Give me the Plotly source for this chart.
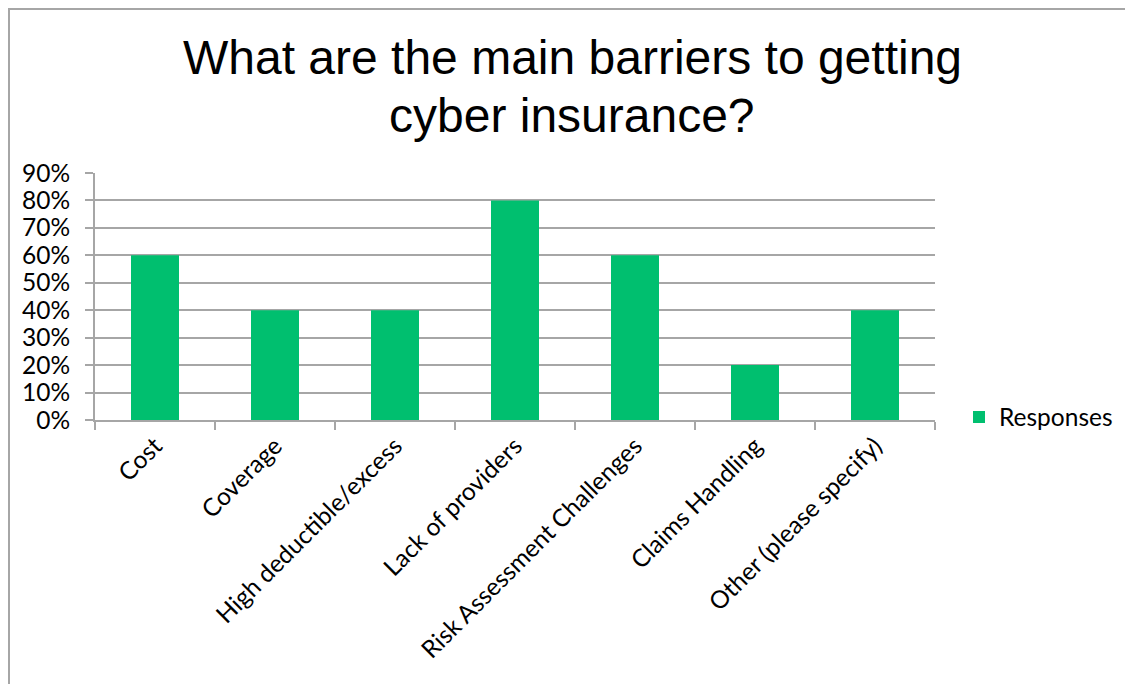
import plotly.graph_objects as go

categories = ["Cost", "Coverage", "High deductible/excess", "Lack of providers",
              "Risk Assessment Challenges", "Claims Handling", "Other (please specify)"]
responses = [0.60, 0.40, 0.40, 0.80, 0.60, 0.20, 0.40]
series_name = "Responses"
title_lines = ["What are the main barriers to getting", "cyber insurance?"]

W, H = 1133, 684
OFF = 8  # page body margin
L, R, T, B = 95, 935, 173, 420  # plot area in page pixels
GRID = "#a6a6a6"
TICKFONT = dict(family="Lato, Open Sans, sans-serif", size=24.5, color="#000000")
TITLEFONT = dict(family="Liberation Sans, Arial, sans-serif", size=48, color="#000000")

def px_x(p):
    return (p - L) / (R - L)

def px_y(p):
    return (B - p) / (B - T)

fig = go.Figure()
fig.add_trace(go.Bar(x=categories, y=responses, name=series_name,
                     marker=dict(color="#00BF6F", line=dict(width=0)),
                     showlegend=True))

title_centers = [58, 116]
annotations = [
    dict(text=t, xref="paper", yref="paper", x=px_x(572), y=px_y(cy),
         xanchor="center", yanchor="middle", showarrow=False, font=TITLEFONT)
    for t, cy in zip(title_lines, title_centers)
]

fig.update_layout(
    width=W - OFF, height=H - OFF,
    margin=dict(l=L - OFF, r=W - R, t=T - OFF, b=H - B, autoexpand=False, pad=0),
    paper_bgcolor="white", plot_bgcolor="white",
    bargap=0.6,
    annotations=annotations,
    showlegend=True,
    legend=dict(x=px_x(959), xanchor="left", y=px_y(417), yanchor="middle",
                font=TICKFONT, bgcolor="rgba(0,0,0,0)"),
    xaxis=dict(type="category", showline=True, linecolor=GRID, linewidth=2,
               ticks="outside", tickson="boundaries", ticklen=8, tickcolor=GRID, tickwidth=2,
               tickangle=-45, tickfont=TICKFONT, showgrid=False),
    yaxis=dict(range=[0, 0.9], dtick=0.1, tick0=0, tickformat=".0%",
               showline=True, linecolor=GRID, linewidth=2,
               ticks="outside", ticklen=8, tickcolor=GRID, tickwidth=2,
               showgrid=True, gridcolor=GRID, gridwidth=2, zeroline=False,
               tickfont=TICKFONT, ticklabelstandoff=10),
    shapes=[
        dict(type="line", xref="paper", yref="paper", x0=px_x(OFF), x1=px_x(W + 5),
             y0=px_y(9), y1=px_y(9), line=dict(color="#a6a6a6", width=2), layer="above"),
        dict(type="line", xref="paper", yref="paper", x0=px_x(OFF + 1), x1=px_x(OFF + 1),
             y0=px_y(9), y1=px_y(H + 5), line=dict(color="#a6a6a6", width=2), layer="above"),
    ],
)

fig.write_html("out.html")
